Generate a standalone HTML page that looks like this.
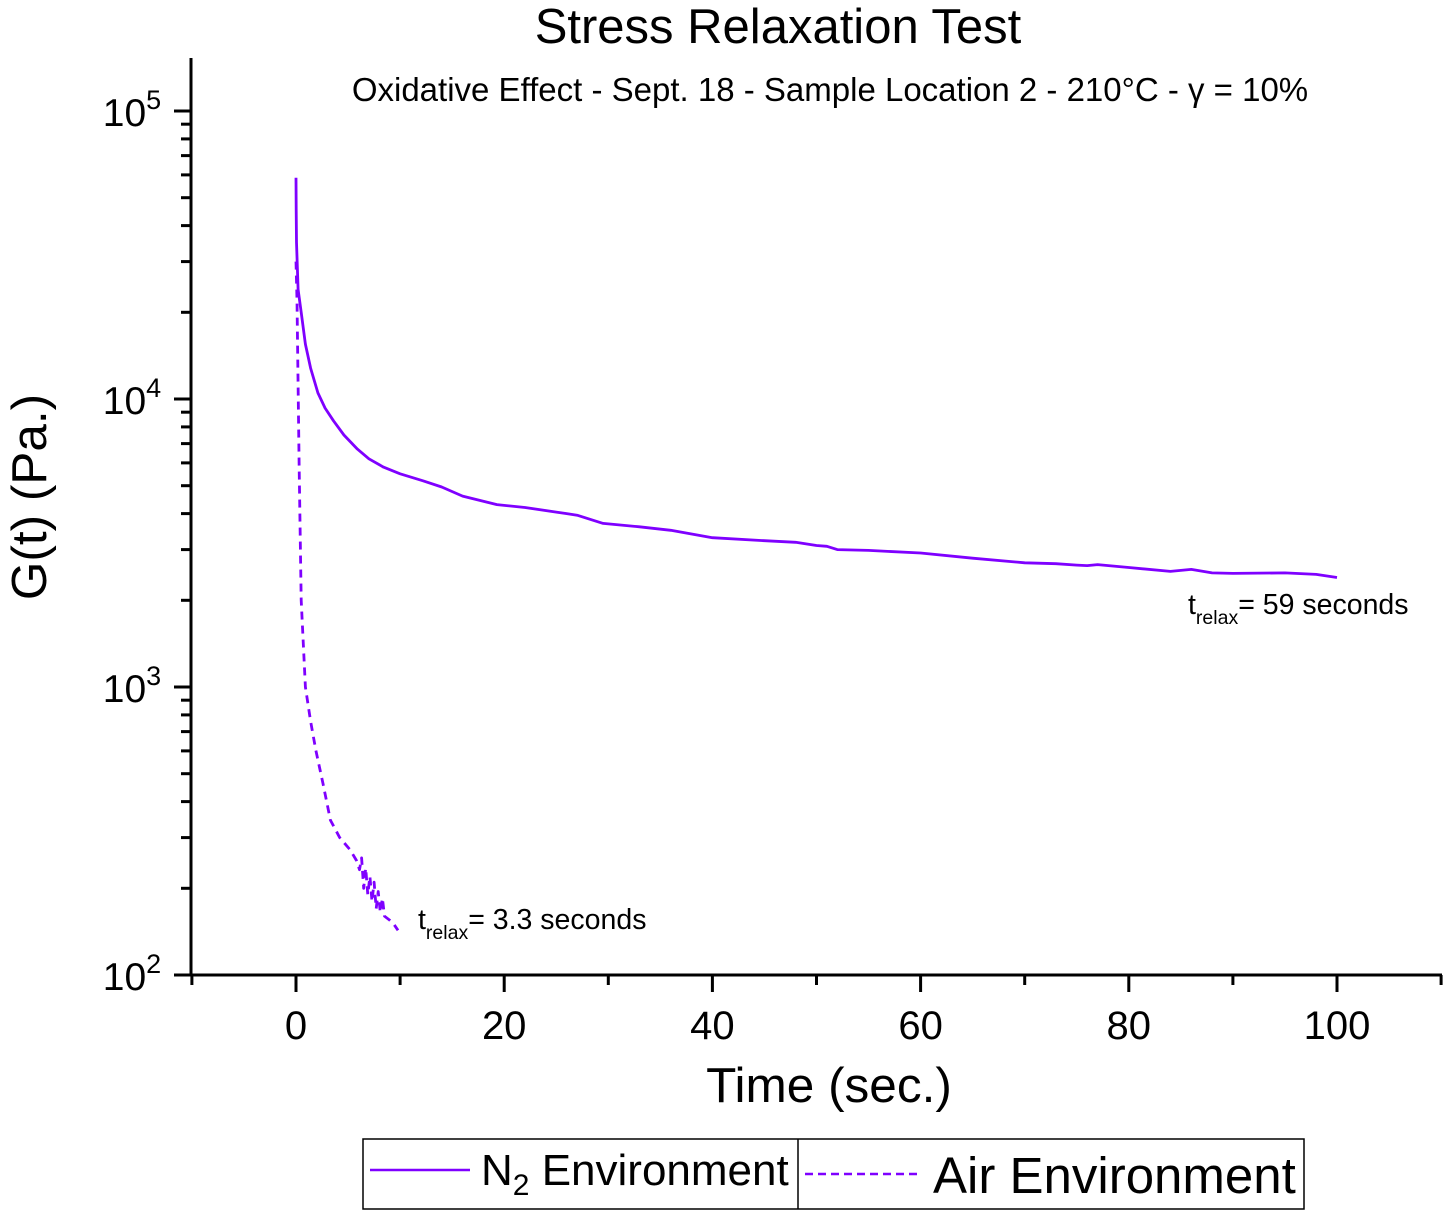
<!DOCTYPE html>
<html><head><meta charset="utf-8"><style>
body{margin:0;background:#fff;}
svg text{font-family:"Liberation Sans",Arial,sans-serif;fill:#000;}
</style></head><body>
<svg width="1449" height="1216" viewBox="0 0 1449 1216" xmlns="http://www.w3.org/2000/svg">
<text x="778" y="43" font-size="49" text-anchor="middle">Stress Relaxation Test</text>
<text x="830" y="101" font-size="33" text-anchor="middle">Oxidative Effect - Sept. 18 - Sample Location 2 - 210°C - γ = 10%</text>
<g id="axes"></g>
<g id="series"></g>
<text x="1188" y="614" font-size="28.5">t<tspan font-size="19.5" dy="10">relax</tspan><tspan dy="-10">= 59 seconds</tspan></text>
<text x="418" y="929" font-size="28.5">t<tspan font-size="19.5" dy="10">relax</tspan><tspan dy="-10">= 3.3 seconds</tspan></text>
<text x="829" y="1102" font-size="49.5" text-anchor="middle">Time (sec.)</text>
<text transform="translate(46,497) rotate(-90)" font-size="49.5" text-anchor="middle">G(t) (Pa.)</text>
<g>
<rect x="363" y="1139" width="941" height="70" fill="none" stroke="#000" stroke-width="1.5"/>
<line x1="798" y1="1139" x2="798" y2="1209" stroke="#000" stroke-width="1.5"/>
<line x1="370" y1="1170" x2="470" y2="1170" stroke="#7F00FF" stroke-width="2.5"/>
<text x="481" y="1185" font-size="44">N<tspan font-size="30" dy="10">2</tspan><tspan dy="-10"> Environment</tspan></text>
<line x1="805" y1="1174" x2="920" y2="1174" stroke="#7F00FF" stroke-width="2.5" stroke-dasharray="8,5"/>
<text x="933" y="1193" font-size="51">Air Environment</text>
</g>
</svg>
<script>
const n2Times=[0,0.02,0.05,0.2,0.5,0.9,1.4,2.1,2.8,3.6,4.6,5.9,7,8.4,10,12.2,14,16,19.3,22,25,26,27,29.5,33,36,40,45,48,50,51,52,55,60,65,70,73,75,76,77,80,84,86,88,90,95,98,100];
const n2Values=[58600,45000,35000,24000,20000,15500,12800,10500,9300,8400,7500,6700,6200,5800,5500,5200,4950,4600,4300,4200,4050,4000,3950,3700,3600,3500,3300,3220,3180,3100,3080,3000,2980,2920,2800,2700,2680,2650,2640,2660,2600,2520,2560,2490,2480,2490,2460,2400];
const airTimes=[0,0.1,0.3,0.5,0.9,1.4,1.9,2.6,3.3,4.2,5.2,5.8,6.1,6.3,6.5,6.7,6.9,7.1,7.3,7.5,7.7,7.9,8.1,8.3,8.5,9,9.4,9.8];
const airValues=[30000,22000,6000,2000,1000,760,604,460,345,300,272,250,232,255,200,235,190,220,180,210,170,195,165,185,160,155,150,143];
const yTickExps=[2,3,4,5];
const xTicks=[0,20,40,60,80,100];
const NS='http://www.w3.org/2000/svg';
const X=t=>296+t*10.41;
const Y=v=>975-(Math.log10(v)-2)*288;
const axes=document.getElementById('axes'),series=document.getElementById('series');
function mk(tag,attrs,parent){const e=document.createElementNS(NS,tag);for(const k in attrs)e.setAttribute(k,attrs[k]);parent.appendChild(e);return e;}
let e=mk('line',{x1:191,y1:58,x2:191,y2:976.5,stroke:'#000','stroke-width':3},axes);


e=mk('line',{x1:189.5,y1:975,x2:1442,y2:975,stroke:'#000','stroke-width':3},axes);


yTickExps.forEach(p=>{
 const y=Y(Math.pow(10,p));
 e=mk('line',{x1:174,y1:y,x2:191,y2:y,stroke:'#000','stroke-width':3},axes);
 
 
 e=mk('text',{x:132,y:y+15,'font-size':39,'text-anchor':'middle'},axes);
 e.innerHTML='10<tspan font-size="27" dy="-17">'+p+'</tspan>';
 
 
 for(let m=2;m<=9;m++){const yy=Y(m*Math.pow(10,p));if(yy<60)continue;
  e=mk('line',{x1:181,y1:yy,x2:191,y2:yy,stroke:'#000','stroke-width':3},axes);
  
  }
});
for(let t=-10;t<=110;t+=10){
 const major=(t%20===0);
 e=mk('line',{x1:X(t),y1:975,x2:X(t),y2:major?992:985,stroke:'#000','stroke-width':3},axes);
 
 
}
xTicks.forEach(t=>{
 e=mk('text',{x:X(t),y:1039,'font-size':40,'text-anchor':'middle'},axes);
 e.textContent=t;
 
 
});
const pts=(ts,vs)=>ts.map((t,i)=>X(t).toFixed(1)+','+Y(vs[i]).toFixed(1)).join(' ');
e=mk('polyline',{points:pts(airTimes,airValues),fill:'none',stroke:'#7F00FF','stroke-width':2.8,'stroke-dasharray':'8,6','stroke-linejoin':'round'},series);


e=mk('polyline',{points:pts(n2Times,n2Values),fill:'none',stroke:'#7F00FF','stroke-width':2.8,'stroke-linejoin':'round'}, series);


</script>
</body></html>
